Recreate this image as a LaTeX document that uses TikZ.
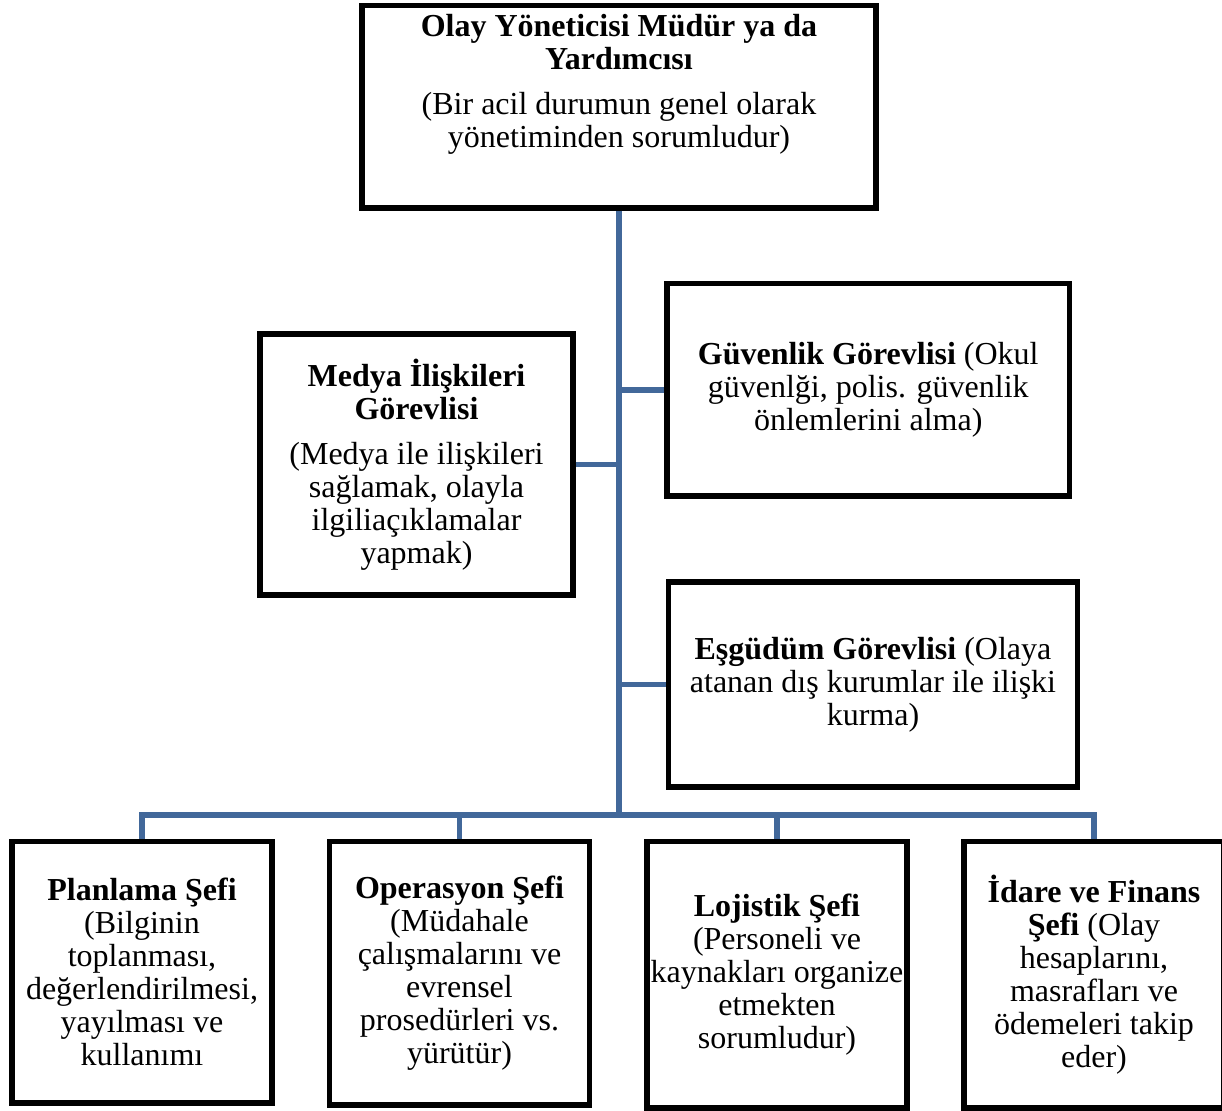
\documentclass[tikz,border=0pt]{standalone}
\usepackage{fontspec}
\setmainfont{Liberation Serif}
\usepackage{tikz}
\definecolor{hatmavi}{RGB}{66,104,154}
\tikzset{
  kutu/.style={draw=black, line width=2.7pt, rectangle, align=center, inner sep=0pt,
    font=\fontsize{16}{16.5}\selectfont},
  yazi/.style={align=center, inner sep=0pt, font=\fontsize{16}{16.5}\selectfont},
  hat/.style={draw=hatmavi, line width=2.8pt},
}

\begin{document}
\begin{tikzpicture}[x=0.5pt, y=-0.5pt]
  \useasboundingbox (0,0) rectangle (1222,1110);
  % ust kutu
  \node[kutu, minimum width=257pt, minimum height=101.25pt] (ust) at (619,106.75) {};
  \node[yazi, anchor=north] (ustyazi) at (619,14)
    {\textbf{Olay Yöneticisi Müdür ya da}\\\textbf{Yardımcısı}\\[6pt]
     (Bir acil durumun genel olarak\\yönetiminden sorumludur)};
  % orta kutular
  \node[kutu, minimum width=156.5pt, minimum height=130.5pt] (medya) at (416.5,464.5)
    {\textbf{Medya İlişkileri}\\\textbf{Görevlisi}\\[6pt]
     (Medya ile ilişkileri\\sağlamak, olayla\\ilgiliaçıklamalar\\yapmak)};
  \node[kutu, minimum width=201.25pt, minimum height=106.25pt] (guvenlik) at (868.25,389.75)
    {\textbf{Güvenlik Görevlisi} (Okul\\güvenlği, polis. güvenlik\\önlemlerini alma)};
  \node[kutu, minimum width=204.5pt, minimum height=102.5pt] (esgudum) at (873,684.5)
    {\textbf{Eşgüdüm Görevlisi} (Olaya\\atanan dış kurumlar ile ilişki\\kurma)};
  % alt kutular
  \node[kutu, minimum width=130pt, minimum height=130.75pt] (planlama) at (142,972.25)
    {\textbf{Planlama Şefi}\\(Bilginin\\toplanması,\\değerlendirilmesi,\\yayılması ve\\kullanımı};
  \node[kutu, minimum width=130pt, minimum height=131.75pt] (operasyon) at (459.5,973.25)
    {\textbf{Operasyon Şefi}\\(Müdahale\\çalışmalarını ve\\evrensel\\prosedürleri vs.\\yürütür)};
  \node[kutu, minimum width=130pt, minimum height=133.25pt] (lojistik) at (777,974.75)
    {\textbf{Lojistik Şefi}\\(Personeli ve\\kaynakları organize\\etmekten\\sorumludur)};
  \node[kutu, minimum width=130pt, minimum height=133.25pt] (idare) at (1094,974.75)
    {\textbf{İdare ve Finans}\\\textbf{Şefi} (Olay\\hesaplarını,\\masrafları ve\\ödemeleri takip\\eder)};
  % baglantilar
  \coordinate (omurga) at (619,815);
  \draw[hat] (ust.south) -- (omurga);
  \draw[hat] (guvenlik.west) -- (guvenlik.west -| omurga);
  \draw[hat] (medya.east) -- (medya.east -| omurga);
  \draw[hat] (esgudum.west) -- (esgudum.west -| omurga);
  \draw[hat] (planlama.north) -- (planlama.north |- omurga) -- (idare.north |- omurga) -- (idare.north);
  \draw[hat] (operasyon.north) -- (operasyon.north |- omurga);
  \draw[hat] (lojistik.north) -- (lojistik.north |- omurga);
\end{tikzpicture}
\end{document}
